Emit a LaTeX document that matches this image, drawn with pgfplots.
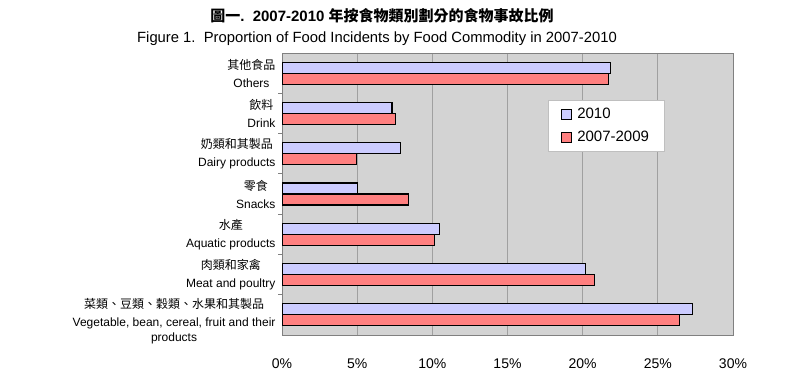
\documentclass[border=0pt]{standalone}
\usepackage{fontspec}
\setmainfont{Liberation Sans}
\newfontfamily\cjk{Noto Sans CJK TC}
\usepackage{pgfplots}
\pgfplotsset{compat=1.18}
\definecolor{bgg}{RGB}{211,211,211}
\definecolor{gridc}{RGB}{160,160,160}
\definecolor{bblue}{RGB}{204,204,255}
\definecolor{bred}{RGB}{255,128,128}
\begin{document}
\begin{tikzpicture}[x=1pt,y=1pt]
\useasboundingbox (0pt,0pt) rectangle (800pt,385pt);
\node[font=\fontsize{15}{17}\selectfont\bfseries] at (382pt,369pt) {{\cjk 圖一}.\ \ 2007-2010 {\cjk 年按食物類別劃分的食物事故比例}};
\node[font=\fontsize{14.8}{17}\selectfont] at (377pt,346pt) {Figure 1.\ \ Proportion of Food Incidents by Food Commodity in 2007-2010};
\begin{axis}[
  at={(282pt,50pt)}, anchor=south west,
  scale only axis, width=451pt, height=282pt,
  xbar=0pt, bar width=11pt,
  xmin=0, xmax=30, ymin=-0.5, ymax=6.5,
  axis background/.style={fill=bgg},
  axis line style={draw=gray, line width=0.8pt},
  xmajorgrids, grid style={color=gridc, line width=0.8pt},
  xtick={0,5,...,30},
  /pgf/number format/assume math mode=true,
  xticklabel={\pgfmathprintnumber{\tick}\%},
  xticklabel style={font=\fontsize{14}{16}\selectfont, yshift=-20pt},
  ytick={-0.166,1,2,3,4,5,6},
  yticklabels={
    {{\cjk 菜類、豆類、穀類、水果和其製品}\\Vegetable, bean, cereal, fruit and their\\[-3pt]products},
    {{\cjk 肉類和家禽}\\Meat and poultry},
    {{\cjk 水產}\\Aquatic products},
    {{\cjk 零食}\\Snacks},
    {{\cjk 奶類和其製品}\\Dairy products},
    {{\cjk 飲料}\\Drink},
    {{\cjk 其他食品}\\Others}},
  yticklabel style={align=center, font=\fontsize{12}{18}\selectfont, xshift=-3pt},
  major tick length=0pt,
  minor ytick={0.5,1.5,...,5.5},
  minor tick length=4pt,
  tick pos=left,
  minor tick style={draw=gray, line width=0.8pt},
  reverse legend,
  legend cell align=left,
  legend style={at={(0.59,0.833)}, anchor=north west, draw=gray!50, fill=white,
    font=\fontsize{15}{17}\selectfont, inner xsep=13pt, inner ysep=6pt, row sep=7pt,
    /tikz/every odd column/.append style={column sep=3pt}},
  legend image code/.code={\draw[#1, line width=1pt] (0pt,-5pt) rectangle (10pt,5pt);},
]
\addplot[fill=bred, draw=black, line width=1.1pt] coordinates {(26.43,0) (20.8,1) (10.14,2) (8.43,3) (4.97,4) (7.52,5) (21.7,6)};
\addplot[fill=bblue, draw=black, line width=1.1pt] coordinates {(27.28,0) (20.18,1) (10.49,2) (5.0,3) (7.87,4) (7.32,5) (21.85,6)};
\legend{2007-2009,2010}
\end{axis}
\end{tikzpicture}
\end{document}
